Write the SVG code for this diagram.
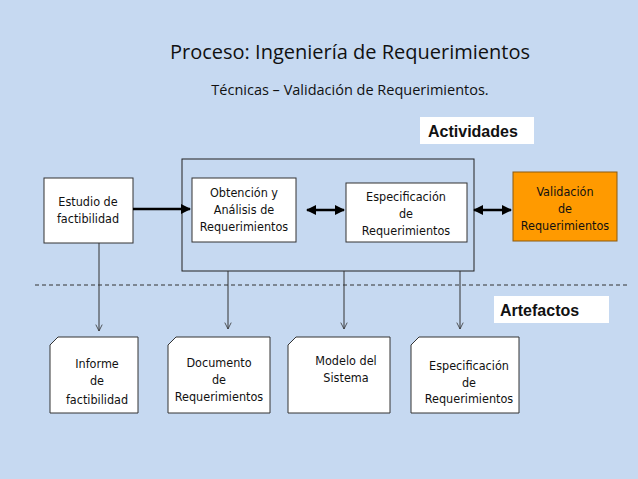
<svg xmlns="http://www.w3.org/2000/svg" width="638" height="479" viewBox="0 0 638 479">
<style>
.b{fill:#fff;stroke:#333;stroke-width:1}
.t{font-family:"DejaVu Sans Condensed","DejaVu Sans",sans-serif;font-size:12.5px;fill:#111;text-anchor:middle}
.c{stroke:#333;stroke-width:1;fill:none}
.k{stroke:#000;stroke-width:2.5;fill:none}
.h{font-family:"Liberation Sans",sans-serif;font-weight:bold;font-size:16px;fill:#111}
</style>
<defs>
<marker id="a" viewBox="0 0 10 10" refX="9" refY="5" markerWidth="8" markerHeight="8" orient="auto-start-reverse" markerUnits="userSpaceOnUse"><path d="M1,1 L9,5 L1,9" fill="none" stroke="#333" stroke-width="1"/></marker>
<marker id="f" viewBox="0 0 10 10" refX="9" refY="5" markerWidth="4" markerHeight="4" orient="auto-start-reverse"><path d="M0,0 L10,5 L0,10Z" fill="#000"/></marker>
</defs>
<rect width="638" height="479" fill="#c6d9f1"/>
<text x="350" y="59" font-family="Open Sans,sans-serif" font-size="20" text-anchor="middle" fill="#111">Proceso: Ingeniería de Requerimientos</text>
<text x="350" y="95" font-family="Open Sans,sans-serif" font-size="14.5" text-anchor="middle" fill="#111">Técnicas – Validación de Requerimientos.</text>
<g id="actividades"><rect x="420" y="117" width="114" height="27" fill="#fff"/><text class="h" x="428" y="137">Actividades</text></g>
<g id="artefactos"><rect x="494" y="296" width="115" height="27" fill="#fff"/><text class="h" x="500" y="316">Artefactos</text></g>
<g id="contenedor"><rect x="182" y="159" width="292" height="112" fill="none" stroke="#222" stroke-width="1"/></g>
<g id="estudio"><rect class="b" x="44" y="178" width="89" height="65"/><text class="t" x="88" y="206">Estudio de</text><text class="t" x="88" y="223">factibilidad</text></g>
<g id="obtencion"><rect class="b" x="192" y="178" width="104" height="64"/><text class="t" x="244" y="197">Obtención y</text><text class="t" x="244" y="214">Análisis de</text><text class="t" x="244" y="231">Requerimientos</text></g>
<g id="especificacion"><rect class="b" x="346" y="183" width="121" height="59"/><text class="t" x="406" y="201">Especificación</text><text class="t" x="406" y="218">de</text><text class="t" x="406" y="235">Requerimientos</text></g>
<g id="validacion"><rect x="513" y="172" width="104" height="69" fill="#ff9a00" stroke="#8a5a10"/><text class="t" x="565" y="196">Validación</text><text class="t" x="565" y="213">de</text><text class="t" x="565" y="230">Requerimientos</text></g>
<g id="docs">
<g id="informe"><path class="b" d="M58,337 H138 V413 H50 V345 Z"/><text class="t" x="97" y="368">Informe</text><text class="t" x="97" y="385">de</text><text class="t" x="97" y="404">factibilidad</text></g>
<g id="documento"><path class="b" d="M176,337 H270 V413 H168 V345 Z"/><text class="t" x="219" y="367">Documento</text><text class="t" x="219" y="384">de</text><text class="t" x="219" y="401">Requerimientos</text></g>
<g id="modelo"><path class="b" d="M296,337 H390 V413 H288 V345 Z"/><text class="t" x="346" y="365">Modelo del</text><text class="t" x="346" y="382">Sistema</text></g>
<g id="espec2"><path class="b" d="M419,337 H519 V413 H411 V345 Z"/><text class="t" x="469" y="370">Especificación</text><text class="t" x="469" y="387">de</text><text class="t" x="469" y="403">Requerimientos</text></g>
</g>
<g id="conectores">
<line class="k" x1="133" y1="209" x2="190" y2="209" marker-end="url(#f)"/>
<line class="k" x1="307" y1="210" x2="344" y2="210" marker-start="url(#f)" marker-end="url(#f)"/>
<line class="k" x1="474" y1="210" x2="511" y2="210" marker-start="url(#f)" marker-end="url(#f)"/>
<line x1="35" y1="285" x2="630" y2="285" stroke="#333" stroke-dasharray="4,3"/>
<line class="c" x1="99" y1="243" x2="99" y2="331" marker-end="url(#a)"/>
<line class="c" x1="228" y1="271" x2="228" y2="329" marker-end="url(#a)"/>
<line class="c" x1="344" y1="271" x2="344" y2="329" marker-end="url(#a)"/>
<line class="c" x1="460" y1="271" x2="460" y2="329" marker-end="url(#a)"/>
</g>
</svg>
